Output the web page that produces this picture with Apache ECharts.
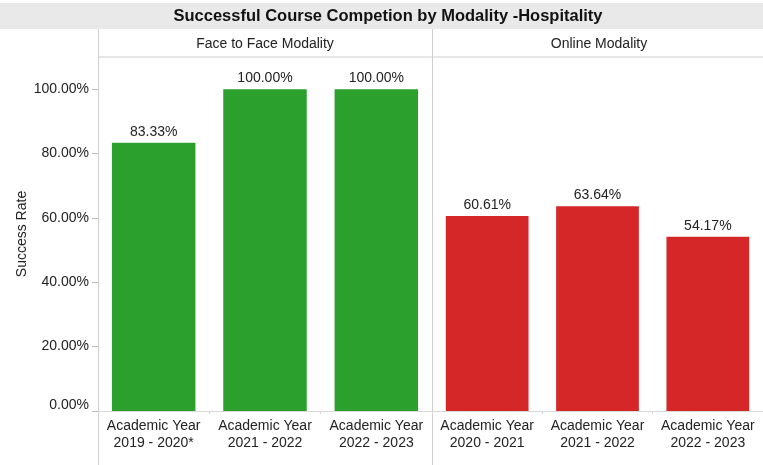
<!DOCTYPE html>
<html>
<head>
<meta charset="utf-8">
<script src="https://cdn.jsdelivr.net/npm/echarts@6/dist/echarts.min.js"></script>
<style>
html,body{margin:0;padding:0;background:#fff;}
#main{width:763px;height:465px;}
</style>
</head>
<body>
<div id="main"></div>
<script>
var titleText = 'Successful Course Competion by Modality -Hospitality';
var panelNames = ['Face to Face Modality', 'Online Modality'];
var f2fYears = ['Academic Year\n2019 - 2020*', 'Academic Year\n2021 - 2022', 'Academic Year\n2022 - 2023'];
var f2fRates = [83.33, 100.00, 100.00];
var onlineYears = ['Academic Year\n2020 - 2021', 'Academic Year\n2021 - 2022', 'Academic Year\n2022 - 2023'];
var onlineRates = [60.61, 63.64, 54.17];
var yTicks = [0, 20, 40, 60, 80, 100];

var myChart = echarts.init(document.getElementById('main'));
var font = 'Liberation Sans, Arial, sans-serif';

function xAxisCfg(idx, data) {
	return {
		type : 'category',
		gridIndex : idx,
		data : data,
		axisLine : { lineStyle : { color : '#d9d9d9' } },
		axisTick : { show : true, length : 3, lineStyle : { color : '#d9d9d9' } },
		axisLabel : {
			color : '#222',
			fontSize : 14,
			fontFamily : font,
			lineHeight : 17,
			margin : 7,
			interval : 0
		}
	};
}

function yAxisCfg(idx, showLabels) {
	return {
		type : 'value',
		gridIndex : idx,
		min : 0,
		max : 110,
		interval : 20,
		name : showLabels ? 'Success Rate' : '',
		nameLocation : 'middle',
		nameGap : 69,
		nameRotate : 90,
		nameTextStyle : { color : '#222', fontSize : 14, fontFamily : font },
		axisLine : { show : showLabels, lineStyle : { color : '#cfcfcf' } },
		axisTick : { show : showLabels, length : 6, lineStyle : { color : '#bbb' } },
		splitLine : { show : false },
		axisLabel : {
			show : showLabels,
			color : '#222',
			fontSize : 14,
			fontFamily : font,
			margin : 9,
			showMaxLabel : false,
			formatter : function(v) {
				if (yTicks.indexOf(v) < 0) return '';
				if (v === 0) return '{z|0.00%}';
				return v.toFixed(2) + '%';
			},
			rich : { z : { fontSize : 14, fontFamily : font, color : '#222', padding : [0, 0, 12, 0] } }
		}
	};
}

function barSeries(idx, data, color) {
	return {
		type : 'bar',
		xAxisIndex : idx,
		yAxisIndex : idx,
		data : data,
		barWidth : '75%',
		itemStyle : { color : color },
		label : {
			show : true,
			position : 'top',
			distance : 4,
			color : '#222',
			fontSize : 14,
			fontFamily : font,
			formatter : function(p) { return p.value.toFixed(2) + '%'; }
		}
	};
}

var option = {
	animation : false,
	backgroundColor : '#fff',
	grid : [
		{ left : 98, width : 334, top : 57, bottom : 54 },
		{ left : 432, right : 0, top : 57, bottom : 54 }
	],
	xAxis : [ xAxisCfg(0, f2fYears), xAxisCfg(1, onlineYears) ],
	yAxis : [ yAxisCfg(0, true), yAxisCfg(1, false) ],
	series : [
		barSeries(0, f2fRates, '#2ca02c'),
		barSeries(1, onlineRates, '#d62728')
	],
	graphic : [
		// title bar
		{ type : 'rect', shape : { x : 0, y : 3, width : 763, height : 26 }, style : { fill : '#e9e9e9' }, z : 0 },
		{ type : 'text', x : 388, y : 16, style : { text : titleText, font : 'bold 16.5px ' + font, fill : '#111', textAlign : 'center', textVerticalAlign : 'middle' } },
		// panel headers
		{ type : 'text', x : 265, y : 44, style : { text : panelNames[0], font : '14px ' + font, fill : '#222', textAlign : 'center', textVerticalAlign : 'middle' } },
		{ type : 'text', x : 599, y : 44, style : { text : panelNames[1], font : '14px ' + font, fill : '#222', textAlign : 'center', textVerticalAlign : 'middle' } },
		{ type : 'line', shape : { x1 : 98, y1 : 57, x2 : 763, y2 : 57 }, style : { stroke : '#cfcfcf', lineWidth : 1 } },
		{ type : 'line', shape : { x1 : 98.5, y1 : 29, x2 : 98.5, y2 : 465 }, style : { stroke : '#cfcfcf', lineWidth : 1 } },
		{ type : 'line', shape : { x1 : 432.5, y1 : 29, x2 : 432.5, y2 : 465 }, style : { stroke : '#cfcfcf', lineWidth : 1 } }
	]
};

myChart.setOption(option);
</script>
</body>
</html>
